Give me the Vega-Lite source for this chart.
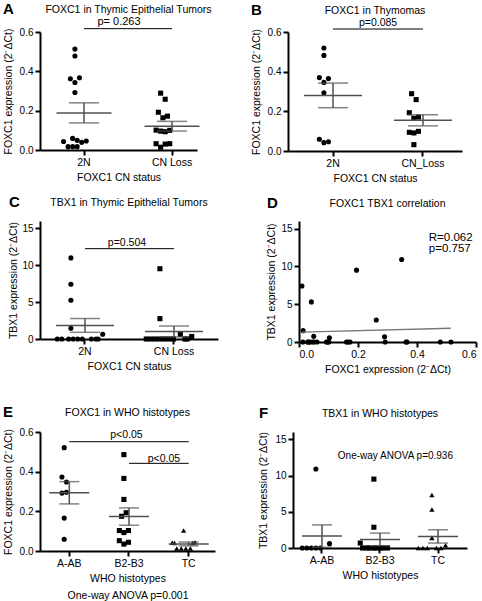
{
"$schema": "https://vega.github.io/schema/vega-lite/v6.json",
"padding": {"left": 3, "top": 1, "right": 2, "bottom": 1},
"config": {
 "font": "Liberation Sans",
 "view": {"stroke": null},
 "axis": {"domainColor": "black", "domainWidth": 2, "tickColor": "black", "tickWidth": 2, "tickSize": 5, "labelColor": "black", "labelFont": "Liberation Sans", "labelFontSize": 10.5, "titleColor": "black", "titleFont": "Liberation Sans", "titleFontSize": 10.5, "titleFontWeight": "normal", "grid": false, "labelPadding": 2, "titlePadding": 5},
 "axisY": {"labelFontSize": 10, "titlePadding": 6},
 "title": {"font": "Liberation Sans", "fontSize": 10.5, "fontWeight": "normal", "color": "black", "offset": 1, "frame": "group"},
 "text": {"color": "black", "font": "Liberation Sans"}
},
"datasets": {
 "a": [
  {"g": "2N", "v": 0.513, "s": 0}, {"g": "2N", "v": 0.478, "s": 0}, {"g": "2N", "v": 0.362, "s": -2}, {"g": "2N", "v": 0.367, "s": 2}, {"g": "2N", "v": 0.343, "s": 0}, {"g": "2N", "v": 0.292, "s": 0}, {"g": "2N", "v": 0.043, "s": -5}, {"g": "2N", "v": 0.059, "s": -1}, {"g": "2N", "v": 0.049, "s": 1}, {"g": "2N", "v": 0.039, "s": 3}, {"g": "2N", "v": 0.046, "s": 5}, {"g": "2N", "v": 0.017, "s": -3}, {"g": "2N", "v": 0.017, "s": -1}, {"g": "2N", "v": 0.017, "s": 1},
  {"g": "CN Loss", "v": 0.289, "s": -1}, {"g": "CN Loss", "v": 0.258, "s": 1}, {"g": "CN Loss", "v": 0.192, "s": -2}, {"g": "CN Loss", "v": 0.164, "s": 0}, {"g": "CN Loss", "v": 0.172, "s": 2}, {"g": "CN Loss", "v": 0.101, "s": -3}, {"g": "CN Loss", "v": 0.096, "s": -1}, {"g": "CN Loss", "v": 0.093, "s": 1}, {"g": "CN Loss", "v": 0.100, "s": 3}, {"g": "CN Loss", "v": 0.032, "s": -3}, {"g": "CN Loss", "v": 0.014, "s": -1}, {"g": "CN Loss", "v": 0.030, "s": 1}, {"g": "CN Loss", "v": 0.032, "s": 3}
 ],
 "b": [
  {"g": "2N", "v": 0.519, "s": 0}, {"g": "2N", "v": 0.482, "s": 0}, {"g": "2N", "v": 0.370, "s": -2}, {"g": "2N", "v": 0.365, "s": 2}, {"g": "2N", "v": 0.346, "s": 0}, {"g": "2N", "v": 0.294, "s": 0}, {"g": "2N", "v": 0.059, "s": -2}, {"g": "2N", "v": 0.042, "s": 0}, {"g": "2N", "v": 0.047, "s": 2},
  {"g": "CN_Loss", "v": 0.289, "s": -1}, {"g": "CN_Loss", "v": 0.259, "s": 1}, {"g": "CN_Loss", "v": 0.193, "s": -2}, {"g": "CN_Loss", "v": 0.165, "s": 0}, {"g": "CN_Loss", "v": 0.171, "s": 2}, {"g": "CN_Loss", "v": 0.094, "s": -2}, {"g": "CN_Loss", "v": 0.091, "s": 0}, {"g": "CN_Loss", "v": 0.099, "s": 2}, {"g": "CN_Loss", "v": 0.032, "s": 0}
 ],
 "c": [
  {"g": "2N", "v": 11.0, "s": 0}, {"g": "2N", "v": 7.42, "s": 0}, {"g": "2N", "v": 5.26, "s": 0}, {"g": "2N", "v": 1.45, "s": 0}, {"g": "2N", "v": 0.64, "s": 10},
  {"g": "2N", "v": 0, "s": -10}, {"g": "2N", "v": 0, "s": -8}, {"g": "2N", "v": 0, "s": -6}, {"g": "2N", "v": 0, "s": -4}, {"g": "2N", "v": 0, "s": -1}, {"g": "2N", "v": 0, "s": 1}, {"g": "2N", "v": 0, "s": 3}, {"g": "2N", "v": 0, "s": 5}, {"g": "2N", "v": 0, "s": 8},
  {"g": "CN Loss", "v": 9.53, "s": 0}, {"g": "CN Loss", "v": 2.76, "s": 0}, {"g": "CN Loss", "v": 0.64, "s": -10}, {"g": "CN Loss", "v": 0.34, "s": 10},
  {"g": "CN Loss", "v": 0, "s": -8}, {"g": "CN Loss", "v": 0, "s": -6}, {"g": "CN Loss", "v": 0, "s": -4}, {"g": "CN Loss", "v": 0, "s": -2}, {"g": "CN Loss", "v": 0, "s": 0}, {"g": "CN Loss", "v": 0, "s": 2}, {"g": "CN Loss", "v": 0, "s": 4}, {"g": "CN Loss", "v": 0, "s": 6}, {"g": "CN Loss", "v": 0, "s": 8}
 ],
 "d": [
  {"fx": 0.010, "tv": 7.4}, {"fx": 0.042, "tv": 5.3}, {"fx": 0.014, "tv": 1.5}, {"fx": 0.195, "tv": 9.5}, {"fx": 0.348, "tv": 10.9}, {"fx": 0.262, "tv": 2.9}, {"fx": 0.050, "tv": 0.75}, {"fx": 0.103, "tv": 0.55}, {"fx": 0.290, "tv": 0.7},
  {"fx": 0.013, "tv": 0}, {"fx": 0.029, "tv": 0}, {"fx": 0.033, "tv": 0}, {"fx": 0.036, "tv": 0}, {"fx": 0.045, "tv": 0}, {"fx": 0.051, "tv": 0}, {"fx": 0.061, "tv": 0}, {"fx": 0.093, "tv": 0}, {"fx": 0.097, "tv": 0}, {"fx": 0.101, "tv": 0}, {"fx": 0.161, "tv": 0}, {"fx": 0.166, "tv": 0}, {"fx": 0.173, "tv": 0}, {"fx": 0.292, "tv": 0}, {"fx": 0.363, "tv": 0}, {"fx": 0.366, "tv": 0}, {"fx": 0.479, "tv": 0}, {"fx": 0.515, "tv": 0}
 ],
 "e": [
  {"g": "A-AB", "v": 0.521, "s": 0}, {"g": "A-AB", "v": 0.373, "s": -1}, {"g": "A-AB", "v": 0.348, "s": 1}, {"g": "A-AB", "v": 0.292, "s": -1}, {"g": "A-AB", "v": 0.296, "s": 1}, {"g": "A-AB", "v": 0.166, "s": 0}, {"g": "A-AB", "v": 0.059, "s": 0},
  {"g": "B2-B3", "v": 0.486, "s": 0}, {"g": "B2-B3", "v": 0.366, "s": 0}, {"g": "B2-B3", "v": 0.260, "s": 0}, {"g": "B2-B3", "v": 0.193, "s": 1}, {"g": "B2-B3", "v": 0.175, "s": -1}, {"g": "B2-B3", "v": 0.103, "s": -2}, {"g": "B2-B3", "v": 0.093, "s": 0}, {"g": "B2-B3", "v": 0.103, "s": 2}, {"g": "B2-B3", "v": 0.052, "s": -2}, {"g": "B2-B3", "v": 0.035, "s": 0}, {"g": "B2-B3", "v": 0.044, "s": 2},
  {"g": "TC", "v": 0.103, "s": 0}, {"g": "TC", "v": 0.042, "s": -5}, {"g": "TC", "v": 0.040, "s": -4}, {"g": "TC", "v": 0.040, "s": 4}, {"g": "TC", "v": 0.044, "s": 5}, {"g": "TC", "v": 0.013, "s": -3}, {"g": "TC", "v": 0.013, "s": -1}, {"g": "TC", "v": 0.013, "s": 1}, {"g": "TC", "v": 0.013, "s": 3}
 ],
 "f": [
  {"g": "A-AB", "v": 10.9, "s": 0}, {"g": "A-AB", "v": 0.6, "s": 6}, {"g": "A-AB", "v": 0, "s": -6}, {"g": "A-AB", "v": 0, "s": -4}, {"g": "A-AB", "v": 0, "s": -2}, {"g": "A-AB", "v": 0, "s": 0}, {"g": "A-AB", "v": 0, "s": 2},
  {"g": "B2-B3", "v": 9.5, "s": 0}, {"g": "B2-B3", "v": 2.86, "s": 0}, {"g": "B2-B3", "v": 0.68, "s": -6}, {"g": "B2-B3", "v": 0, "s": -5}, {"g": "B2-B3", "v": 0, "s": -3}, {"g": "B2-B3", "v": 0, "s": -2}, {"g": "B2-B3", "v": 0, "s": 0}, {"g": "B2-B3", "v": 0, "s": 1}, {"g": "B2-B3", "v": 0, "s": 3}, {"g": "B2-B3", "v": 0, "s": 4}, {"g": "B2-B3", "v": 0, "s": 6},
  {"g": "TC", "v": 7.3, "s": 0}, {"g": "TC", "v": 5.3, "s": 0}, {"g": "TC", "v": 1.4, "s": 0}, {"g": "TC", "v": 0.38, "s": 6}, {"g": "TC", "v": 0, "s": -6}, {"g": "TC", "v": 0, "s": -4}, {"g": "TC", "v": 0, "s": -2}, {"g": "TC", "v": 0, "s": 2}, {"g": "TC", "v": 0, "s": 4}
 ]
},
"vconcat": [
 {"vconcat": [
 {"hconcat": [
  {"title": {"text": "A", "anchor": "start", "frame": "bounds", "fontSize": 15, "fontWeight": "bold", "dy": 14, "offset": 2}, "vconcat": [
   {"title": {"text": "FOXC1 in Thymic Epithelial Tumors", "dx": 10}, "width": 157, "height": 118,
    "layer": [
     {"data": {"name": "a"},
      "encoding": {
       "x": {"field": "g", "type": "nominal", "scale": {"domain": ["2N", "CN Loss"], "paddingInner": 0.432, "paddingOuter": 0.108, "align": 1}, "axis": {"title": "FOXC1 CN status", "labelAngle": 0}},
       "y": {"field": "v", "type": "quantitative", "scale": {"domain": [0, 0.6]}, "axis": {"title": "FOXC1 expression (2⁻ΔCt)", "values": [0, 0.2, 0.4, 0.6], "format": ".1f"}}
      },
      "layer": [
       {"transform": [{"filter": "datum.g == '2N'"}], "mark": {"type": "point", "shape": "circle", "filled": true, "color": "black", "opacity": 1, "size": 26},
        "encoding": {"xOffset": {"field": "s", "type": "ordinal", "scale": {"type": "point", "domain": [-7,-6,-5,-4,-3,-2,-1,0,1,2,3,4,5,6,7], "padding": 0}}}},
       {"transform": [{"filter": "datum.g == 'CN Loss'"}], "mark": {"type": "point", "shape": "square", "filled": true, "color": "black", "opacity": 1, "size": 26},
        "encoding": {"xOffset": {"field": "s", "type": "ordinal", "scale": {"type": "point", "domain": [-7,-6,-5,-4,-3,-2,-1,0,1,2,3,4,5,6,7], "padding": 0}}}},
       {"mark": {"type": "errorbar", "extent": "stderr", "color": "#505050", "ticks": {"size": 30, "thickness": 1.5}, "rule": {"strokeWidth": 1.5}}},
       {"mark": {"type": "tick", "size": 55, "thickness": 1.5, "color": "#505050"},
        "encoding": {"y": {"aggregate": "mean", "field": "v", "type": "quantitative", "axis": {"title": "FOXC1 expression (2⁻ΔCt)", "values": [0, 0.2, 0.4, 0.6], "format": ".1f"}}}}
      ]},
     {"data": {"values": [{}]}, "mark": {"type": "rule", "color": "black", "strokeWidth": 1}, "encoding": {"x": {"datum": "2N"}, "x2": {"datum": "CN Loss"}, "y": {"datum": 0.617, "axis": {"title": "FOXC1 expression (2⁻ΔCt)", "values": [0, 0.2, 0.4, 0.6], "format": ".1f"}}}},
     {"data": {"values": [{}]}, "mark": {"type": "text", "text": "p= 0.263", "fontSize": 11, "color": "black"}, "encoding": {"x": {"datum": "2N", "bandPosition": 1.2}, "y": {"datum": 0.65, "axis": {"title": "FOXC1 expression (2⁻ΔCt)", "values": [0, 0.2, 0.4, 0.6], "format": ".1f"}}}}
    ]}
  ]},
  {"title": {"text": "B", "anchor": "start", "frame": "bounds", "fontSize": 15, "fontWeight": "bold", "dy": 14, "offset": 2}, "vconcat": [
   {"title": "FOXC1 in Thymomas", "width": 174, "height": 119,
    "layer": [
     {"data": {"name": "b"},
      "encoding": {
       "x": {"field": "g", "type": "nominal", "scale": {"domain": ["2N", "CN_Loss"], "paddingInner": 0.444, "paddingOuter": 0.189, "align": 0.588}, "axis": {"title": "FOXC1 CN status", "labelAngle": 0}},
       "y": {"field": "v", "type": "quantitative", "scale": {"domain": [0, 0.6]}, "axis": {"title": "FOXC1 expression (2⁻ΔCt)", "values": [0, 0.2, 0.4, 0.6], "format": ".1f"}}
      },
      "layer": [
       {"transform": [{"filter": "datum.g == '2N'"}], "mark": {"type": "point", "shape": "circle", "filled": true, "color": "black", "opacity": 1, "size": 26},
        "encoding": {"xOffset": {"field": "s", "type": "ordinal", "scale": {"type": "point", "domain": [-7,-6,-5,-4,-3,-2,-1,0,1,2,3,4,5,6,7], "padding": 0}}}},
       {"transform": [{"filter": "datum.g == 'CN_Loss'"}], "mark": {"type": "point", "shape": "square", "filled": true, "color": "black", "opacity": 1, "size": 26},
        "encoding": {"xOffset": {"field": "s", "type": "ordinal", "scale": {"type": "point", "domain": [-7,-6,-5,-4,-3,-2,-1,0,1,2,3,4,5,6,7], "padding": 0}}}},
       {"mark": {"type": "errorbar", "extent": "stderr", "color": "#505050", "ticks": {"size": 30, "thickness": 1.5}, "rule": {"strokeWidth": 1.5}}},
       {"mark": {"type": "tick", "size": 58, "thickness": 1.5, "color": "#505050"},
        "encoding": {"y": {"aggregate": "mean", "field": "v", "type": "quantitative", "axis": {"title": "FOXC1 expression (2⁻ΔCt)", "values": [0, 0.2, 0.4, 0.6], "format": ".1f"}}}}
      ]},
     {"data": {"values": [{}]}, "mark": {"type": "rule", "color": "black", "strokeWidth": 1}, "encoding": {"x": {"datum": "2N"}, "x2": {"datum": "CN_Loss"}, "y": {"datum": 0.615, "axis": {"title": "FOXC1 expression (2⁻ΔCt)", "values": [0, 0.2, 0.4, 0.6], "format": ".1f"}}}},
     {"data": {"values": [{}]}, "mark": {"type": "text", "text": "p=0.085", "fontSize": 10.5, "color": "black"}, "encoding": {"x": {"datum": "2N", "bandPosition": 1.4}, "y": {"datum": 0.647, "axis": {"title": "FOXC1 expression (2⁻ΔCt)", "values": [0, 0.2, 0.4, 0.6], "format": ".1f"}}}}
    ]}
  ]}
 ], "spacing": 39},
 {"hconcat": [
  {"title": {"text": "C", "anchor": "start", "frame": "bounds", "fontSize": 15, "fontWeight": "bold", "dy": 14, "offset": 2}, "vconcat": [
   {"title": {"text": "TBX1 in Thymic Epithelial Tumors", "offset": 13}, "width": 178, "height": 118,
    "layer": [
     {"data": {"name": "c"},
      "encoding": {
       "x": {"field": "g", "type": "nominal", "scale": {"domain": ["2N", "CN Loss"], "paddingInner": 0.326, "paddingOuter": 0.163, "align": 0.517}, "axis": {"title": "FOXC1 CN status", "labelAngle": 0}},
       "y": {"field": "v", "type": "quantitative", "scale": {"domain": [0, 15]}, "axis": {"title": "TBX1 expression (2⁻ΔCt)", "values": [0, 5, 10, 15], "format": "d", "titlePadding": 3}}
      },
      "layer": [
       {"transform": [{"filter": "datum.g == '2N'"}], "mark": {"type": "point", "shape": "circle", "filled": true, "color": "black", "opacity": 1, "size": 26},
        "encoding": {"xOffset": {"field": "s", "type": "ordinal", "scale": {"type": "point", "domain": [-11,-10,-9,-8,-7,-6,-5,-4,-3,-2,-1,0,1,2,3,4,5,6,7,8,9,10,11], "padding": 0}}}},
       {"transform": [{"filter": "datum.g == 'CN Loss'"}], "mark": {"type": "point", "shape": "square", "filled": true, "color": "black", "opacity": 1, "size": 26},
        "encoding": {"xOffset": {"field": "s", "type": "ordinal", "scale": {"type": "point", "domain": [-11,-10,-9,-8,-7,-6,-5,-4,-3,-2,-1,0,1,2,3,4,5,6,7,8,9,10,11], "padding": 0}}}},
       {"mark": {"type": "errorbar", "extent": "stderr", "color": "#505050", "ticks": {"size": 30, "thickness": 1.5}, "rule": {"strokeWidth": 1.5}}},
       {"mark": {"type": "tick", "size": 58, "thickness": 1.5, "color": "#505050"},
        "encoding": {"y": {"aggregate": "mean", "field": "v", "type": "quantitative", "axis": {"title": "TBX1 expression (2⁻ΔCt)", "values": [0, 5, 10, 15], "format": "d", "titlePadding": 3}}}}
      ]},
     {"data": {"values": [{}]}, "mark": {"type": "rule", "color": "black", "strokeWidth": 1}, "encoding": {"x": {"datum": "2N"}, "x2": {"datum": "CN Loss"}, "y": {"datum": 12.25, "axis": {"title": "TBX1 expression (2⁻ΔCt)", "values": [0, 5, 10, 15], "format": "d", "titlePadding": 3}}}},
     {"data": {"values": [{}]}, "mark": {"type": "text", "text": "p=0.504", "fontSize": 10.5, "color": "black"}, "encoding": {"x": {"datum": "2N", "bandPosition": 1.2}, "y": {"datum": 12.95, "axis": {"title": "TBX1 expression (2⁻ΔCt)", "values": [0, 5, 10, 15], "format": "d", "titlePadding": 3}}}}
    ]}
  ]},
  {"title": {"text": "D", "anchor": "start", "frame": "bounds", "fontSize": 15, "fontWeight": "bold", "dy": 14, "offset": 2}, "vconcat": [
   {"title": {"text": "FOXC1 TBX1 correlation", "offset": 12}, "width": 177, "height": 121,
    "layer": [
     {"data": {"name": "d"},
      "encoding": {
       "x": {"field": "fx", "type": "quantitative", "scale": {"domain": [0, 0.6]}, "axis": {"title": "FOXC1 expression (2⁻ΔCt)", "values": [0, 0.2, 0.4, 0.6], "format": ".1f"}},
       "y": {"field": "tv", "type": "quantitative", "scale": {"domain": [0, 15]}, "axis": {"title": "TBX1 expression (2⁻ΔCt)", "values": [0, 5, 10, 15], "format": "d", "titlePadding": 4}}
      },
      "layer": [
       {"mark": {"type": "point", "filled": true, "color": "black", "opacity": 1, "size": 26, "shape": "circle"}},
       {"transform": [{"regression": "tv", "on": "fx"}],
        "mark": {"type": "line", "color": "#777777", "strokeWidth": 1.5}}
      ]},
     {"data": {"values": [{}]}, "mark": {"type": "text", "text": "R=0.062", "fontSize": 11.5, "align": "left", "color": "black"}, "encoding": {"x": {"datum": 0.44}, "y": {"datum": 13.8}}},
     {"data": {"values": [{}]}, "mark": {"type": "text", "text": "p=0.757", "fontSize": 11.5, "align": "left", "color": "black"}, "encoding": {"x": {"datum": 0.44}, "y": {"datum": 12.3}}}
    ]}
  ]}
 ], "spacing": 48}
 ], "spacing": 10},
 {"hconcat": [
  {"title": {"text": "E", "anchor": "start", "frame": "bounds", "fontSize": 15, "fontWeight": "bold", "dy": 14, "offset": 2}, "vconcat": [
   {"title": {"text": "FOXC1 in WHO histotypes", "offset": 9}, "width": 175, "height": 119,
    "layer": [
     {"data": {"name": "e"},
      "encoding": {
       "x": {"field": "g", "type": "nominal", "scale": {"domain": ["A-AB", "B2-B3", "TC"], "paddingInner": 0.296, "paddingOuter": 0.114, "align": 0.61}, "axis": {"title": ["WHO histotypes", "One-way ANOVA p=0.001"], "titleLineHeight": 17, "labelAngle": 0}},
       "y": {"field": "v", "type": "quantitative", "scale": {"domain": [0, 0.6]}, "axis": {"title": "FOXC1 expression (2⁻ΔCt)", "values": [0, 0.2, 0.4, 0.6], "format": ".1f"}}
      },
      "layer": [
       {"transform": [{"filter": "datum.g == 'A-AB'"}], "mark": {"type": "point", "shape": "circle", "filled": true, "color": "black", "opacity": 1, "size": 26},
        "encoding": {"xOffset": {"field": "s", "type": "ordinal", "scale": {"type": "point", "domain": [-6,-5,-4,-3,-2,-1,0,1,2,3,4,5,6], "padding": 0}}}},
       {"transform": [{"filter": "datum.g == 'B2-B3'"}], "mark": {"type": "point", "shape": "square", "filled": true, "color": "black", "opacity": 1, "size": 26},
        "encoding": {"xOffset": {"field": "s", "type": "ordinal", "scale": {"type": "point", "domain": [-6,-5,-4,-3,-2,-1,0,1,2,3,4,5,6], "padding": 0}}}},
       {"transform": [{"filter": "datum.g == 'TC'"}], "mark": {"type": "point", "shape": "triangle-up", "filled": true, "color": "black", "opacity": 1, "size": 28},
        "encoding": {"xOffset": {"field": "s", "type": "ordinal", "scale": {"type": "point", "domain": [-6,-5,-4,-3,-2,-1,0,1,2,3,4,5,6], "padding": 0}}}},
       {"mark": {"type": "errorbar", "extent": "stderr", "color": "#505050", "ticks": {"size": 20, "thickness": 1.5}, "rule": {"strokeWidth": 1.5}}},
       {"mark": {"type": "tick", "size": 40, "thickness": 1.5, "color": "#505050"},
        "encoding": {"y": {"aggregate": "mean", "field": "v", "type": "quantitative", "axis": {"title": "FOXC1 expression (2⁻ΔCt)", "values": [0, 0.2, 0.4, 0.6], "format": ".1f"}}}}
      ]},
     {"data": {"values": [{}]}, "mark": {"type": "rule", "color": "black", "strokeWidth": 1}, "encoding": {"x": {"datum": "A-AB"}, "x2": {"datum": "TC"}, "y": {"datum": 0.551, "axis": {"title": "FOXC1 expression (2⁻ΔCt)", "values": [0, 0.2, 0.4, 0.6], "format": ".1f"}}}},
     {"data": {"values": [{}]}, "mark": {"type": "text", "text": "p<0.05", "fontSize": 10.5, "color": "black"}, "encoding": {"x": {"datum": "B2-B3", "bandPosition": 0.44}, "y": {"datum": 0.583, "axis": {"title": "FOXC1 expression (2⁻ΔCt)", "values": [0, 0.2, 0.4, 0.6], "format": ".1f"}}}},
     {"data": {"values": [{}]}, "mark": {"type": "rule", "color": "black", "strokeWidth": 1}, "encoding": {"x": {"datum": "B2-B3"}, "x2": {"datum": "TC"}, "y": {"datum": 0.442, "axis": {"title": "FOXC1 expression (2⁻ΔCt)", "values": [0, 0.2, 0.4, 0.6], "format": ".1f"}}}},
     {"data": {"values": [{}]}, "mark": {"type": "text", "text": "p<0.05", "fontSize": 10.5, "color": "black"}, "encoding": {"x": {"datum": "B2-B3", "bandPosition": 1.33}, "y": {"datum": 0.465, "axis": {"title": "FOXC1 expression (2⁻ΔCt)", "values": [0, 0.2, 0.4, 0.6], "format": ".1f"}}}}
    ]}
  ]},
  {"title": {"text": "F", "anchor": "start", "frame": "bounds", "fontSize": 15, "fontWeight": "bold", "dy": 14, "offset": 2}, "vconcat": [
   {"title": {"text": "TBX1 in WHO histotypes", "offset": 12}, "width": 174, "height": 116,
    "layer": [
     {"data": {"name": "f"},
      "encoding": {
       "x": {"field": "g", "type": "nominal", "scale": {"domain": ["A-AB", "B2-B3", "TC"], "paddingInner": 0.241, "paddingOuter": 0.12, "align": 0.5}, "axis": {"title": "WHO histotypes", "labelAngle": 0}},
       "y": {"field": "v", "type": "quantitative", "scale": {"domain": [0, 15]}, "axis": {"title": "TBX1 expression (2⁻ΔCt)", "values": [0, 5, 10, 15], "format": "d"}}
      },
      "layer": [
       {"transform": [{"filter": "datum.g == 'A-AB'"}], "mark": {"type": "point", "shape": "circle", "filled": true, "color": "black", "opacity": 1, "size": 26},
        "encoding": {"xOffset": {"field": "s", "type": "ordinal", "scale": {"type": "point", "domain": [-8,-7,-6,-5,-4,-3,-2,-1,0,1,2,3,4,5,6,7,8], "padding": 0}}}},
       {"transform": [{"filter": "datum.g == 'B2-B3'"}], "mark": {"type": "point", "shape": "square", "filled": true, "color": "black", "opacity": 1, "size": 26},
        "encoding": {"xOffset": {"field": "s", "type": "ordinal", "scale": {"type": "point", "domain": [-8,-7,-6,-5,-4,-3,-2,-1,0,1,2,3,4,5,6,7,8], "padding": 0}}}},
       {"transform": [{"filter": "datum.g == 'TC'"}], "mark": {"type": "point", "shape": "triangle-up", "filled": true, "color": "black", "opacity": 1, "size": 28},
        "encoding": {"xOffset": {"field": "s", "type": "ordinal", "scale": {"type": "point", "domain": [-8,-7,-6,-5,-4,-3,-2,-1,0,1,2,3,4,5,6,7,8], "padding": 0}}}},
       {"mark": {"type": "errorbar", "extent": "stderr", "color": "#505050", "ticks": {"size": 20, "thickness": 1.5}, "rule": {"strokeWidth": 1.5}}},
       {"mark": {"type": "tick", "size": 40, "thickness": 1.5, "color": "#505050"},
        "encoding": {"y": {"aggregate": "mean", "field": "v", "type": "quantitative", "axis": {"title": "TBX1 expression (2⁻ΔCt)", "values": [0, 5, 10, 15], "format": "d"}}}}
      ]},
     {"data": {"values": [{}]}, "mark": {"type": "text", "text": "One-way ANOVA p=0.936", "fontSize": 10, "color": "black"}, "encoding": {"x": {"datum": "B2-B3", "bandPosition": 0.85}, "y": {"datum": 12.7, "axis": {"title": "TBX1 expression (2⁻ΔCt)", "values": [0, 5, 10, 15], "format": "d"}}}}
    ]}
  ]}
 ], "spacing": 43}
],
"spacing": 29
}
